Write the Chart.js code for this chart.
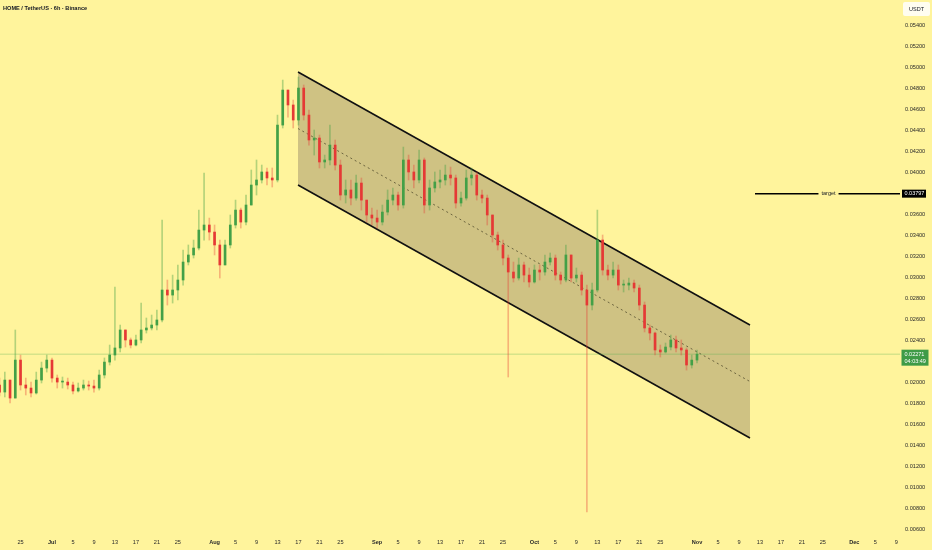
<!DOCTYPE html>
<html><head><meta charset="utf-8">
<script src="https://cdn.jsdelivr.net/npm/chart.js@4.4.0/dist/chart.umd.min.js"></script>
<style>html,body{margin:0;padding:0;background:#FFF49C;overflow:hidden}</style>
</head><body>
<canvas id="c" width="932" height="550" style="width:932px;height:550px;display:block"></canvas>
<script>
// ---- data (6h chart of HOME/USDT, aggregated per day) ----
const titleText = 'HOME / TetherUS · 6h · Binance';
const startDay = -10;           // first candle = Jun 21 (days relative to Jul 1)
const firstOpen = 0.01978;
const closes = [
0.01911,0.02025,0.01854,0.02215,0.01978,0.01949,0.01902,0.02025,0.02139,0.02215,
0.02044,0.02006,0.02006,0.01978,0.01921,0.01949,0.01978,0.01968,0.01949,0.02073,
0.02196,0.02263,0.02330,0.02501,0.02406,0.02358,0.02406,0.02501,0.02520,0.02548,
0.02596,0.02881,0.02833,0.02881,0.02976,0.03147,0.03214,0.03280,0.03451,0.03499,
0.03432,0.03309,0.03119,0.03309,0.03499,0.03641,0.03527,0.03689,0.03879,0.03927,
0.04003,0.03946,0.03927,0.04449,0.04782,0.04640,0.04497,0.04801,0.04544,0.04307,
0.04326,0.04098,0.04117,0.04259,0.04069,0.03784,0.03832,0.03755,0.03898,0.03736,
0.03594,0.03565,0.03527,0.03622,0.03736,0.03784,0.03689,0.04117,0.04003,0.03927,
0.04117,0.03689,0.03851,0.03908,0.03927,0.03974,0.03946,0.03708,0.03755,0.03946,
0.03974,0.03784,0.03755,0.03594,0.03404,0.03309,0.03185,0.03052,0.02995,0.03119,
0.03023,0.02957,0.03071,0.03052,0.03147,0.03185,0.03023,0.02976,0.03214,0.02995,
0.03023,0.02881,0.02738,0.02881,0.03356,0.03071,0.03023,0.03071,0.02928,0.02928,
0.02947,0.02900,0.02738,0.02520,0.02472,0.02311,0.02292,0.02339,0.02406,0.02330,
0.02311,0.02168,0.02215,0.02271];
const highs = [
0.02044,0.02101,0.02025,0.02501,0.02263,0.02044,0.02006,0.02101,0.02196,0.02263,
0.02235,0.02073,0.02054,0.02044,0.02006,0.01997,0.02025,0.02016,0.02025,0.02120,
0.02235,0.02358,0.02909,0.02548,0.02501,0.02425,0.02453,0.02757,0.02615,0.02643,
0.02691,0.03546,0.02976,0.03023,0.03119,0.03261,0.03309,0.03356,0.03641,0.03993,
0.03565,0.03499,0.03356,0.03356,0.03594,0.03736,0.03660,0.03784,0.04022,0.04117,
0.04069,0.04041,0.04041,0.04544,0.04877,0.04782,0.04687,0.04906,0.04830,0.04592,
0.04402,0.04354,0.04164,0.04449,0.04307,0.04117,0.03927,0.03927,0.03974,0.03946,
0.03736,0.03660,0.03641,0.03689,0.03832,0.03851,0.03812,0.04240,0.04164,0.04069,
0.04212,0.04136,0.03927,0.04003,0.04022,0.04069,0.04050,0.03974,0.03812,0.04022,
0.04041,0.04003,0.03832,0.03784,0.03594,0.03432,0.03356,0.03214,0.03147,0.03185,
0.03147,0.03090,0.03119,0.03119,0.03214,0.03233,0.03214,0.03052,0.03309,0.03214,
0.03090,0.03052,0.02928,0.02947,0.03641,0.03404,0.03119,0.03147,0.03119,0.02976,
0.02995,0.02976,0.02928,0.02767,0.02548,0.02482,0.02358,0.02377,0.02453,0.02444,
0.02406,0.02330,0.02263,0.02311];
const lows = [
0.01873,0.01864,0.01807,0.01854,0.01930,0.01883,0.01864,0.01892,0.01997,0.02101,
0.02006,0.01949,0.01949,0.01940,0.01892,0.01911,0.01930,0.01930,0.01911,0.01930,
0.02044,0.02168,0.02215,0.02292,0.02339,0.02330,0.02349,0.02377,0.02472,0.02501,
0.02501,0.02577,0.02738,0.02757,0.02786,0.02928,0.03119,0.03185,0.03261,0.03356,
0.03356,0.03214,0.02995,0.03119,0.03280,0.03470,0.03470,0.03499,0.03689,0.03784,
0.03898,0.03879,0.03860,0.03908,0.04421,0.04525,0.04421,0.04449,0.04497,0.04259,
0.04164,0.04041,0.04041,0.04069,0.04022,0.03736,0.03708,0.03689,0.03736,0.03641,
0.03527,0.03499,0.03470,0.03499,0.03594,0.03689,0.03641,0.03660,0.03927,0.03851,
0.03898,0.03613,0.03641,0.03812,0.03851,0.03879,0.03879,0.03660,0.03679,0.03736,
0.03879,0.03736,0.03708,0.03499,0.03337,0.03261,0.03119,0.02054,0.02957,0.02976,
0.02957,0.02909,0.02947,0.02976,0.03023,0.03119,0.02976,0.02938,0.02957,0.02957,
0.02957,0.02833,0.00771,0.02691,0.02862,0.03023,0.02976,0.02995,0.02881,0.02862,
0.02881,0.02862,0.02691,0.02482,0.02406,0.02263,0.02244,0.02282,0.02311,0.02292,
0.02263,0.02120,0.02139,0.02187];

// x-axis tick positions (days relative to Jul 1) and labels
const tickDays = [-6,0,4,8,12,16,20,24,31,35,39,43,47,51,55,62,66,70,74,78,82,86,92,96,100,104,108,112,116,123,127,131,135,139,143,147,153,157,161];
const tickLabels = ['25','Jul','5','9','13','17','21','25','Aug','5','9','13','17','21','25','Sep','5','9','13','17','21','25','Oct','5','9','13','17','21','25','Nov','5','9','13','17','21','25','Dec','5','9'];
const yTicks = [0.006,0.008,0.010,0.012,0.014,0.016,0.018,0.020,0.022,0.024,0.026,0.028,0.030,0.032,0.034,0.036,0.038,0.040,0.042,0.044,0.046,0.048,0.050,0.052,0.054];

// descending channel (start/end day, top / middle / bottom prices)
const channelDays = [46.91, 133.1];
const channelTop = [0.04953, 0.02548];
const channelMid = [0.04416, 0.02011];
const channelBottom = [0.03879, 0.01474];
// target level
const targetDays = [134.06, 162.09];
const targetPrice = 0.03797;
const targetLabel = 'target';
// last price
const lastPrice = 0.02271;
const countdown = '04:03:49';
const currencyLabel = 'USDT';

// ---- chart ----
const X_MIN = -9.916, X_MAX = 161.71, Y_MIN = 0.00552, Y_MAX = 0.05638;
const BG = '#FFF49C';
const UP = '#43A047', DOWN = '#E53935';
const UP_W = 'rgba(67,160,71,0.40)', DOWN_W = 'rgba(229,57,53,0.35)';
const FONT = '"Liberation Sans", Arial, sans-serif';

const opens = closes.map((c, i) => i === 0 ? firstOpen : closes[i - 1]);
const isUp = closes.map((c, i) => c >= opens[i]);
const wickData = closes.map((c, i) => ({x: startDay + i, y: [lows[i], highs[i]]}));
const bodyData = closes.map((c, i) => ({x: startDay + i, y: [opens[i], c]}));
const pair = (days, vals) => days.map((d, i) => ({x: d, y: vals[i]}));

const overlay = {
  id: 'overlay',
  beforeDraw(chart) {
    const ctx = chart.ctx;
    ctx.save(); ctx.fillStyle = BG; ctx.fillRect(0, 0, chart.width, chart.height); ctx.restore();
  },
  afterDraw(chart) {
    const ctx = chart.ctx, ys = chart.scales.y, xs = chart.scales.x;
    ctx.save();
    // title
    ctx.fillStyle = '#131722';
    ctx.font = '600 5.6px ' + FONT;
    ctx.textBaseline = 'middle'; ctx.textAlign = 'left';
    ctx.fillText(titleText, 3, 8.5);
    // currency box
    const ax = ys.left;
    ctx.fillStyle = '#FFFDF0';
    ctx.beginPath(); ctx.roundRect(ax + 3, 2, 27, 14, 2); ctx.fill();
    ctx.fillStyle = '#131722'; ctx.font = '5.5px ' + FONT; ctx.textAlign = 'center';
    ctx.fillText(currencyLabel, ax + 16.5, 9.5);
    // target label on its line
    const ty = ys.getPixelForValue(targetPrice);
    const tx = (xs.getPixelForValue(targetDays[0]) + xs.getPixelForValue(targetDays[1])) / 2;
    ctx.font = '5.5px ' + FONT;
    const tw = ctx.measureText(targetLabel).width;
    ctx.fillStyle = BG; ctx.fillRect(tx - tw / 2 - 3, ty - 4, tw + 6, 8);
    ctx.fillStyle = '#131722'; ctx.fillText(targetLabel, tx, ty);
    // target price box
    ctx.fillStyle = '#000'; ctx.fillRect(ax + 2, ty - 4, 24, 8);
    ctx.fillStyle = '#fff'; ctx.font = '5.5px ' + FONT; ctx.textAlign = 'left';
    ctx.fillText(targetPrice.toFixed(5), ax + 4.5, ty + 0.3);
    // last price box
    const ly = ys.getPixelForValue(lastPrice);
    ctx.fillStyle = '#3E9B47'; ctx.fillRect(ax + 1.5, ly - 4.5, 27, 16);
    ctx.fillStyle = '#fff';
    ctx.fillText(lastPrice.toFixed(5), ax + 4.5, ly + 0.5);
    ctx.fillText(countdown, ax + 4.5, ly + 7);
    ctx.restore();
  }
};

new Chart(document.getElementById('c'), {
  type: 'bar',
  data: {
    datasets: [
      { type: 'line', data: pair([X_MIN, X_MAX], [lastPrice, lastPrice]), borderColor: 'rgba(76,175,80,0.35)', borderWidth: 1, pointRadius: 0, fill: false, order: 5 },
      { type: 'line', data: pair(channelDays, channelTop), borderColor: '#111', borderWidth: 1.6, pointRadius: 0, fill: '+1', backgroundColor: '#CFC283', order: 10 },
      { type: 'line', data: pair(channelDays, channelBottom), borderColor: '#111', borderWidth: 1.6, pointRadius: 0, fill: false, order: 9 },
      { type: 'line', data: pair(channelDays, channelMid), borderColor: 'rgba(60,55,30,0.75)', borderWidth: 0.9, borderDash: [2, 3], pointRadius: 0, fill: false, order: 8 },
      { type: 'line', data: pair(targetDays, [targetPrice, targetPrice]), borderColor: '#000', borderWidth: 1.5, pointRadius: 0, fill: false, order: 7 },
      { data: wickData, backgroundColor: isUp.map(u => u ? UP_W : DOWN_W), barThickness: 1, grouped: false, order: 2 },
      { data: bodyData, backgroundColor: isUp.map(u => u ? UP : DOWN), barThickness: 2, minBarLength: 1, grouped: false, order: 1 }
    ]
  },
  options: {
    responsive: false, animation: false, devicePixelRatio: 1,
    layout: { padding: 0 },
    plugins: { legend: { display: false }, tooltip: { enabled: false } },
    scales: {
      x: {
        type: 'linear', min: X_MIN, max: X_MAX, offset: false,
        grid: { display: false, drawTicks: false }, border: { display: false },
        afterBuildTicks: s => { s.ticks = tickDays.map(v => ({ value: v })); },
        afterFit: s => { s.height = 15; s.paddingLeft = 0; s.paddingRight = 0; },
        ticks: {
          autoSkip: false, maxRotation: 0, padding: 4, color: '#2a2a2a',
          font: ctx => ({ family: FONT, size: 5.6, weight: /^[A-Z]/.test(tickLabels[ctx.index] || '') ? 'bold' : 'normal' }),
          callback: (v, i) => tickLabels[i]
        }
      },
      y: {
        type: 'linear', position: 'right', min: Y_MIN, max: Y_MAX,
        grid: { display: false, drawTicks: false }, border: { display: false },
        afterBuildTicks: s => { s.ticks = yTicks.map(v => ({ value: v })); },
        afterFit: s => { s.width = 32; s.paddingTop = 0; s.paddingBottom = 0; },
        ticks: { padding: 5, color: '#2a2a2a', font: { family: FONT, size: 5.6 }, callback: v => Number(v).toFixed(5) }
      }
    }
  },
  plugins: [overlay]
});
</script>
</body></html>
